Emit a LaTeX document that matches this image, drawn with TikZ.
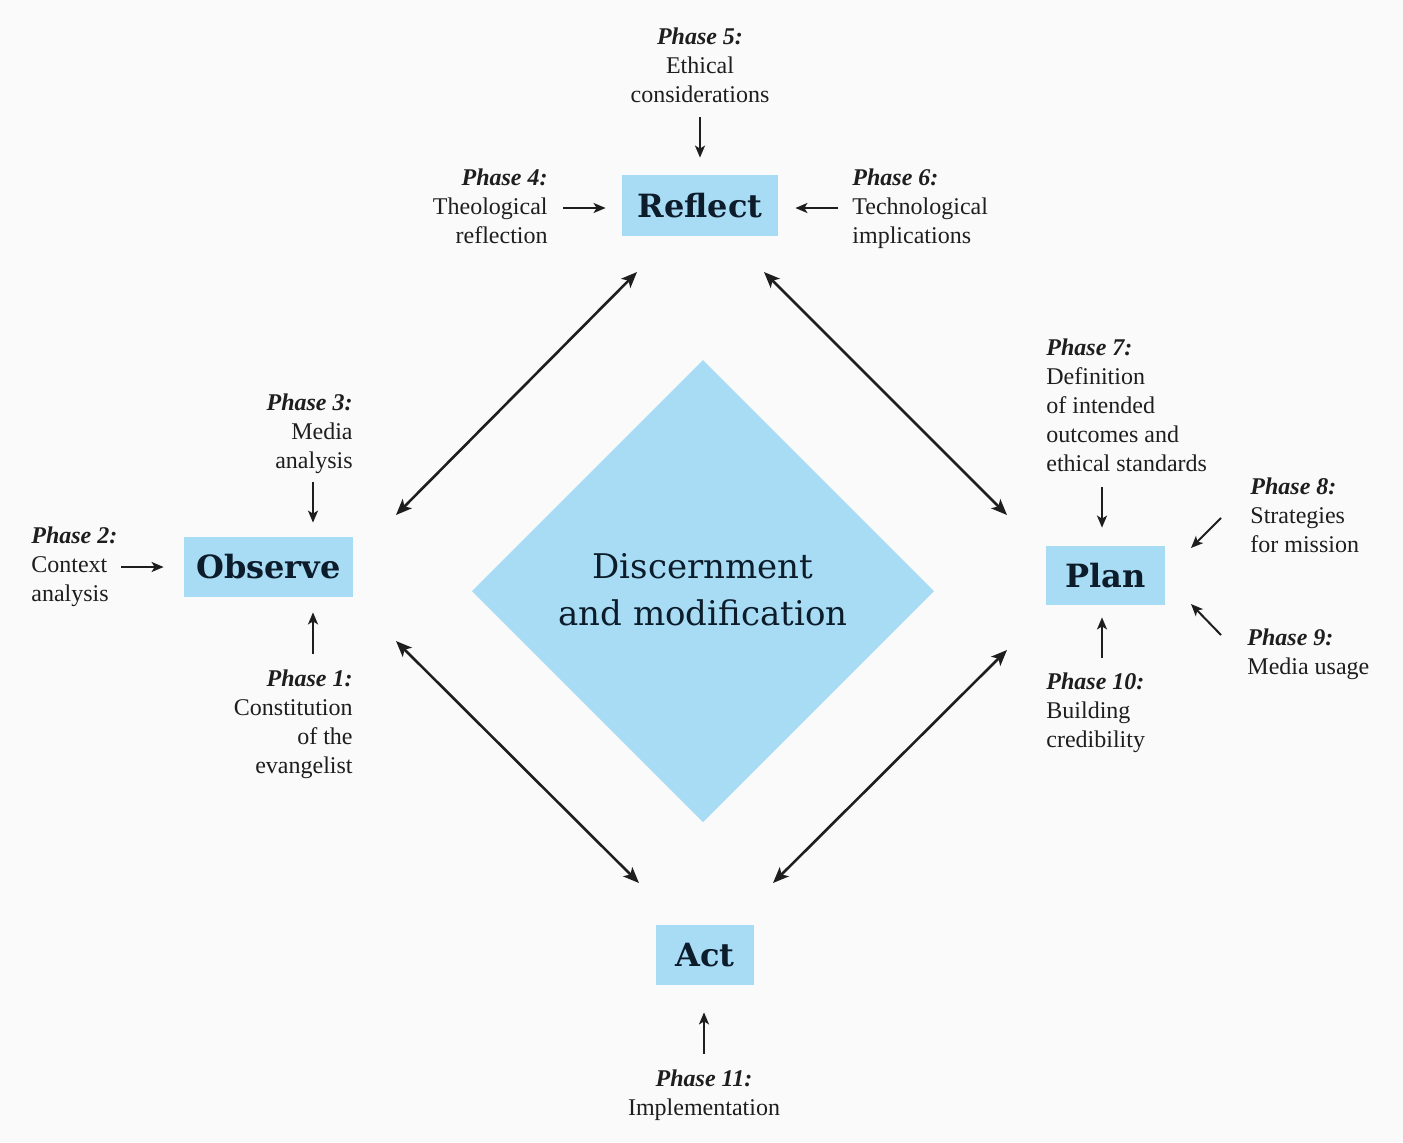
\documentclass[tikz,border=0pt]{standalone}
\usepackage{fontspec}
\setmainfont{Liberation Serif}
\newfontfamily\slabfont{DejaVu Serif}
\usetikzlibrary{arrows.meta}
\definecolor{boxblue}{RGB}{168,220,244}
\definecolor{navy}{RGB}{12,28,42}
\definecolor{bgcol}{RGB}{250,250,250}
\definecolor{txt}{RGB}{30,30,30}
\begin{document}
\begin{tikzpicture}[x=0.5pt,y=-0.5pt,
  stage/.style={fill=boxblue, inner sep=0, text=navy, font=\slabfont\bfseries\fontsize{16}{18}\selectfont},
  phase/.style={inner sep=0, text=txt, font=\fontsize{12}{14.5}\selectfont},
  feed/.style={-{Stealth[length=6pt,width=5pt,inset=1.5pt]}, line width=1pt, draw=txt},
  bigarrow/.style={{Stealth[length=8pt,width=6.5pt,inset=2pt]}-{Stealth[length=8pt,width=6.5pt,inset=2pt]}, line width=1.3pt, draw=txt}]
\fill[bgcol] (0,0) rectangle (1403,1142);
\useasboundingbox (0,0) rectangle (1403,1142);

% central diamond
\fill[boxblue] (703,360) -- (934,591) -- (703,822) -- (472,591) -- cycle;
\node[inner sep=0, align=center, text=navy, font=\slabfont\fontsize{17}{23.5}\selectfont] (dm) at (703,590) {Discernment\\and modification};

% stages
\node[stage, minimum width=78pt, minimum height=30.5pt] (R) at (700,205.5) {Reflect};
\node[stage, minimum width=84.5pt, minimum height=30pt] (O) at (268.5,567) {Observe};
\node[stage, minimum width=59.5pt, minimum height=29.5pt] (P) at (1105.5,575.5) {Plan};
\node[stage, minimum width=49pt, minimum height=30pt] (A) at (705,955) {Act};

% phase labels
\node[phase, align=center, anchor=north] (p5) at (700,27) {\textbf{\textit{Phase 5:}}\\Ethical\\considerations};
\node[phase, align=right, anchor=north east] (p4) at (548,168) {\textbf{\textit{Phase 4:}}\\Theological\\reflection};
\node[phase, align=left, anchor=north west] (p6) at (852,168) {\textbf{\textit{Phase 6:}}\\Technological\\implications};
\node[phase, align=right, anchor=north east] (p3) at (353,393) {\textbf{\textit{Phase 3:}}\\Media\\analysis};
\node[phase, align=left, anchor=north west] (p2) at (31,526) {\textbf{\textit{Phase 2:}}\\Context\\analysis};
\node[phase, align=right, anchor=north east] (p1) at (353,669) {\textbf{\textit{Phase 1:}}\\Constitution\\of the\\evangelist};
\node[phase, align=left, anchor=north west] (p7) at (1046,338) {\textbf{\textit{Phase 7:}}\\Definition\\of intended\\outcomes and\\ethical standards};
\node[phase, align=left, anchor=north west] (p8) at (1250,477) {\textbf{\textit{Phase 8:}}\\Strategies\\for mission};
\node[phase, align=left, anchor=north west] (p9) at (1247,628) {\textbf{\textit{Phase 9:}}\\Media usage};
\node[phase, align=left, anchor=north west] (p10) at (1046,672) {\textbf{\textit{Phase 10:}}\\Building\\credibility};
\node[phase, align=center, anchor=north] (p11) at (704,1069) {\textbf{\textit{Phase 11:}}\\Implementation};

% feed arrow starts
\coordinate (s5) at (700,117);
\coordinate (s4) at (563,208);
\coordinate (s6) at (838,208);
\coordinate (s3) at (313,482);
\coordinate (s2) at (121,567);
\coordinate (s1) at (313,654);
\coordinate (s7) at (1102,487);
\coordinate (s10) at (1102,658);
\coordinate (s11) at (704,1054);
\coordinate (s8) at (1221,518);
\coordinate (e8) at (1191,548);
\coordinate (s9) at (1221,635);
\coordinate (e9) at (1191,604);

\draw[feed, shorten >=8.5pt] (s5) -- (s5 |- R.north);
\draw[feed, shorten >=8pt] (s4) -- (s4 -| R.west);
\draw[feed, shorten >=8.5pt] (s6) -- (s6 -| R.east);
\draw[feed, shorten >=7pt] (s3) -- (s3 |- O.north);
\draw[feed, shorten >=10pt] (s2) -- (s2 -| O.west);
\draw[feed, shorten >=7.5pt] (s1) -- (s1 |- O.south);
\draw[feed, shorten >=9pt] (s7) -- (s7 |- P.north);
\draw[feed, shorten >=6pt] (s10) -- (s10 |- P.south);
\draw[feed, shorten >=13.5pt] (s11) -- (s11 |- A.south);
\draw[feed] (s8) -- (e8);
\draw[feed] (s9) -- (e9);

% cycle arrows
\coordinate (ro1) at (637,272);
\coordinate (ro2) at (396,515);
\coordinate (rp1) at (764,272);
\coordinate (rp2) at (1007,515);
\coordinate (oa1) at (396,641);
\coordinate (oa2) at (639,883);
\coordinate (pa1) at (1007,650);
\coordinate (pa2) at (773,883);
\draw[bigarrow] (ro1) -- (ro2);
\draw[bigarrow] (rp1) -- (rp2);
\draw[bigarrow] (oa1) -- (oa2);
\draw[bigarrow] (pa1) -- (pa2);
\end{tikzpicture}
\end{document}
